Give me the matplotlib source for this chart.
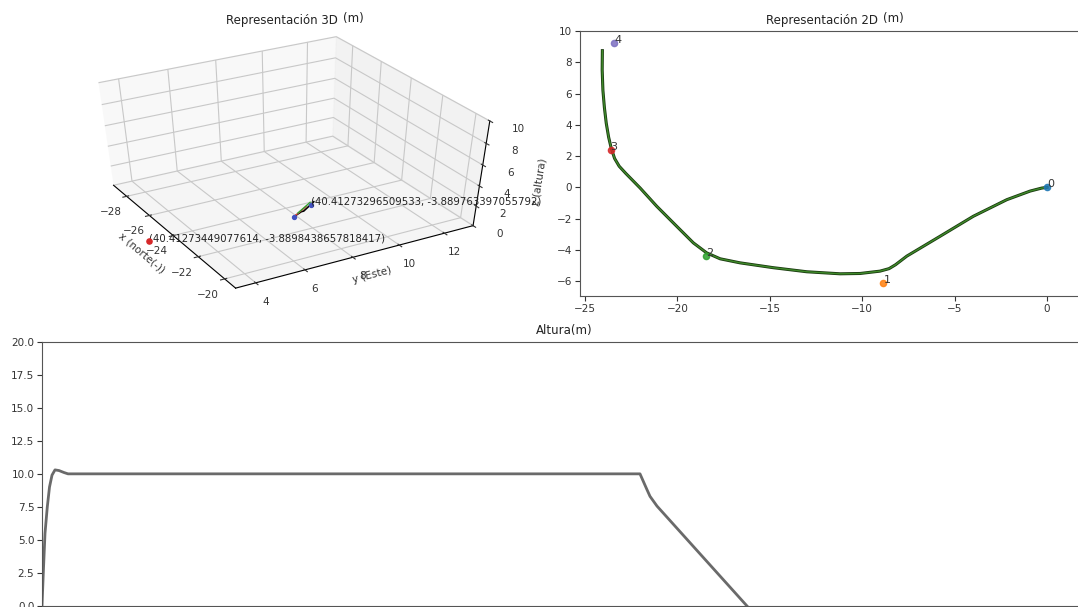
import matplotlib
matplotlib.use("Agg")
import matplotlib.pyplot as plt
import numpy as np

# ---------------- data ----------------
# 2D trajectory (x, y) in metres
path_x = [-24.06, -24.07, -24.03, -23.95, -23.85, -23.72, -23.58, -23.40, -23.15, -22.80,
          -22.02, -21.12, -20.04, -19.14, -18.42, -17.69, -16.61, -14.81, -13.0, -11.2,
          -10.12, -9.04, -8.55, -8.20, -7.59, -5.79, -3.99, -2.18, -0.92, -0.30, 0.0]
path_y = [8.74, 7.50, 6.20, 5.10, 4.10, 3.20, 2.50, 1.85, 1.35, 0.90,
          -0.04, -1.21, -2.49, -3.55, -4.19, -4.57, -4.83, -5.14, -5.40, -5.53,
          -5.51, -5.36, -5.20, -4.95, -4.40, -3.13, -1.85, -0.79, -0.24, -0.05, 0.0]
# waypoints
wp_labels = ["0", "1", "2", "3", "4"]
wp_x = [0.0, -8.86, -18.45, -23.61, -23.43]
wp_y = [0.0, -6.15, -4.36, 2.41, 9.21]

# altitude vs time
alt_t = [0, 0.13, 0.3, 0.53, 0.75, 1.0, 1.3, 1.7, 2.2, 2.6, 59.8, 60.5, 60.8, 61.5, 70.5]
alt_h = [0, 2.5, 5.5, 7.5, 9.0, 9.9, 10.3, 10.25, 10.1, 10.0, 10.0, 8.8, 8.3, 7.56, 0.0]

# 3D points
p3_start = (-24.0, 2.2, 0.0)
p3_end = (-23.8, 9.0, 0.0)
gps_start = "(40.41273449077614, -3.8898438657818417)"
gps_end = "(40.41273296509533, -3.889763397055792)"
traj3_x = [-23.2, -23.0, -23.0, -23.6]
traj3_y = [7.9, 8.1, 8.2, 9.0]
traj3_z = [0.0, 0.6, 0.6, 0.5]
red3_x = [-23.2, -23.0]
red3_y = [7.9, 8.3]
red3_z = [0.0, 1.0]
green3_x = [-23.1, -23.7]
green3_y = [8.0, 8.9]
green3_z = [0.4, 0.4]
blue3_x = [-23.2, -23.8]
blue3_y = [7.9, 9.0]
blue3_z = [0.0, 0.0]

W, H = 1078, 607
fig = plt.figure(figsize=(W / 100, H / 100), dpi=100)

def fx(px):
    return px / W

def fy(py):
    return 1 - py / H

TICK = 7.5
SP = "#555555"
TC = "#333333"

# ---------------- 3D axes ----------------
r3 = (70, 23, 496, 295)  # left, top, right, bottom in pixels
ax3 = fig.add_axes([fx(r3[0]), fy(r3[3]), (r3[2] - r3[0]) / W, (r3[3] - r3[1]) / H],
                   projection="3d")

def _fill_rect(position=None):
    # old-style 3D axes: the projection fills the whole rectangle
    if position is None:
        position = ax3.get_position(original=True)
    ax3._set_position(position, "active")

ax3.apply_aspect = _fill_rect
ax3.set_proj_type("persp", focal_length=0.65)
ax3.view_init(elev=38, azim=-30)
ax3.set_xlim(-29.2, -19.2)
ax3.set_ylim(3.2, 13.3)
ax3.set_zlim(0, 10)
ax3.set_xticks([-28, -26, -24, -22, -20])
ax3.set_yticks([4, 6, 8, 10, 12])
ax3.set_zticks([0, 2, 4, 6, 8, 10])
ax3.tick_params(labelsize=TICK, colors=TC, pad=1)
ax3.set_xlabel("x (norte(-))", fontsize=TICK, labelpad=-5, color=TC)
ax3.set_ylabel("y (Este)", fontsize=TICK, labelpad=-9, color=TC)
ax3.set_zlabel("z (altura)", fontsize=TICK, labelpad=-2, color=TC)
for a in (ax3.xaxis, ax3.yaxis, ax3.zaxis):
    a._axinfo["grid"]["color"] = "#c8c8c8"
    a._axinfo["grid"]["linewidth"] = 0.8
ax3.plot(traj3_x, traj3_y, traj3_z, color="black", lw=1.2)
ax3.plot(red3_x, red3_y, red3_z, color="#e04040", lw=1.0)
ax3.plot(green3_x, green3_y, green3_z, color="#30a030", lw=1.0)
ax3.scatter(blue3_x, blue3_y, blue3_z, color="#4050c0", s=8, depthshade=False)
ax3.scatter(*p3_start, color="#d62728", s=14, depthshade=False)
ax3.text(*p3_start, gps_start, fontsize=7.3, color="#222222")
ax3.text(*p3_end, gps_end, fontsize=7.3, color="#222222")

fig.text(fx(226), fy(24), "Representación 3D", fontsize=8.5, color="#222222", va="baseline")
fig.text(fx(343), fy(22), "(m)", fontsize=8.5, color="#222222", va="baseline")

# ---------------- 2D axes ----------------
ax2 = fig.add_axes([fx(580), fy(296), (1085 - 580) / W, (296 - 30.5) / H])
ax2.plot(path_x, path_y, color="#1a3a10", lw=2.2)
ax2.plot(path_x, path_y, color="#3f8a2a", lw=1.0)
colors = ["#1f77b4", "#ff7f0e", "#2ca02c", "#d62728", "#7b6fc0"]
for lab, x, y, c in zip(wp_labels, wp_x, wp_y, colors):
    ax2.scatter(x, y, color=c, s=20, zorder=3, alpha=0.85)
    ax2.annotate(lab, (x, y), fontsize=8, color="#333333")
ax2.set_xlim(-25.27, 2.05)
ax2.set_ylim(-6.95, 10.03)
ax2.set_xticks([-25, -20, -15, -10, -5, 0])
ax2.set_yticks([-6, -4, -2, 0, 2, 4, 6, 8, 10])
ax2.tick_params(labelsize=TICK, colors=TC, pad=2)
for s in ax2.spines.values():
    s.set_color(SP)

fig.text(fx(766), fy(24), "Representación 2D", fontsize=8.5, color="#222222", va="baseline")
fig.text(fx(883), fy(22), "(m)", fontsize=8.5, color="#222222", va="baseline")

# ---------------- altitude axes ----------------
axb = fig.add_axes([fx(42), fy(606), (1086 - 42) / W, (606 - 341.7) / H])
axb.plot(alt_t, alt_h, color="#6a6a6a", lw=2)
axb.set_xlim(0, 104.4)
axb.set_ylim(0, 20)
axb.set_yticks(np.arange(0, 20.1, 2.5))
axb.yaxis.set_major_formatter(matplotlib.ticker.FormatStrFormatter("%.1f"))
axb.tick_params(labelsize=TICK, colors=TC, pad=2)
axb.tick_params(axis="x", labelbottom=False)
for s in axb.spines.values():
    s.set_color(SP)
fig.text(fx(564), fy(334), "Altura(m)", fontsize=8.5, color="#222222", ha="center", va="baseline")

fig.savefig("out.png", dpi=100)
